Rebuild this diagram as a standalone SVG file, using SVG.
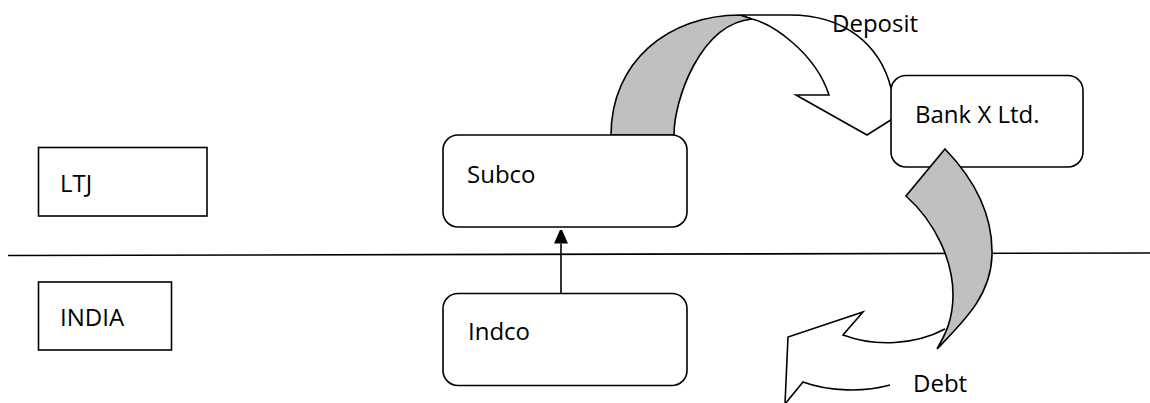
<svg xmlns="http://www.w3.org/2000/svg" width="1150" height="403" viewBox="0 0 1150 403">
<defs>
<style>
.box{fill:#fff;stroke:#000;stroke-width:1.6}
.lbl{font-family:"Open Sans","Liberation Sans",sans-serif;font-size:24px;fill:#000}
.edge{fill:none;stroke:#000;stroke-width:1.6}
.back{fill:#c0c0c0;stroke:#000;stroke-width:1.6;stroke-linejoin:miter}
.front{fill:#fff;stroke:#000;stroke-width:1.6;stroke-linejoin:miter}
</style>
<marker id="ah" markerWidth="14" markerHeight="16" refX="0" refY="7" orient="auto" markerUnits="userSpaceOnUse">
<path d="M0,0 L16,7 L0,14 Z" fill="#000"/>
</marker>
</defs>
<rect width="1150" height="403" fill="#fff"/>
<g id="divider">
<line x1="8" y1="255.5" x2="1150" y2="253" stroke="#000" stroke-width="1.6"/>
</g>
<g id="ltj">
<rect class="box" x="38.5" y="147.5" width="168.5" height="68.5"/>
<text class="lbl" x="60" y="192">LTJ</text>
</g>
<g id="india">
<rect class="box" x="38.5" y="282" width="133" height="68"/>
<text class="lbl" x="60" y="326">INDIA</text>
</g>
<g id="deposit-arrow">
<path class="front" d="M752,19 C772,24 815,52 829,95 L796,95 L867,135 L905,111 L896,100 L891,88 C880,45 845,15 790,15 L740,15 Z"/>
<path class="back" d="M611,135 C611,62 668,15 740,15 L752,19 C700,24 674,100 674,135 Z"/>
</g>
<g id="subco">
<rect class="box" x="443" y="135" width="244" height="92" rx="15" ry="15"/>
<text class="lbl" x="467" y="183">Subco</text>
</g>
<g id="indco">
<rect class="box" x="443" y="293.5" width="244" height="92" rx="15" ry="15"/>
<text class="lbl" x="468" y="340">Indco</text>
</g>
<g id="bank">
<rect class="box" x="891" y="75.5" width="192" height="91.5" rx="15" ry="15"/>
<text class="lbl" x="915" y="123">Bank X Ltd.</text>
</g>
<g id="connectors">
<line class="edge" x1="561" y1="293.5" x2="561" y2="243.5" marker-end="url(#ah)"/>
</g>
<g id="debt-arrow">
<path class="back" d="M945,149 C975,180 993,215 992,255 C991,295 965,320 937,349 C945,335 953,320 953,295 C953,260 935,222 906,196 Z"/>
<path class="edge" d="M945,329 C915,345 875,347 843,335 L863,312 L788,337 L785,404 L803,382 C830,392 865,392 890,385"/>
</g>
<text class="lbl" x="832" y="32">Deposit</text>
<text class="lbl" x="913" y="392">Debt</text>
</svg>
